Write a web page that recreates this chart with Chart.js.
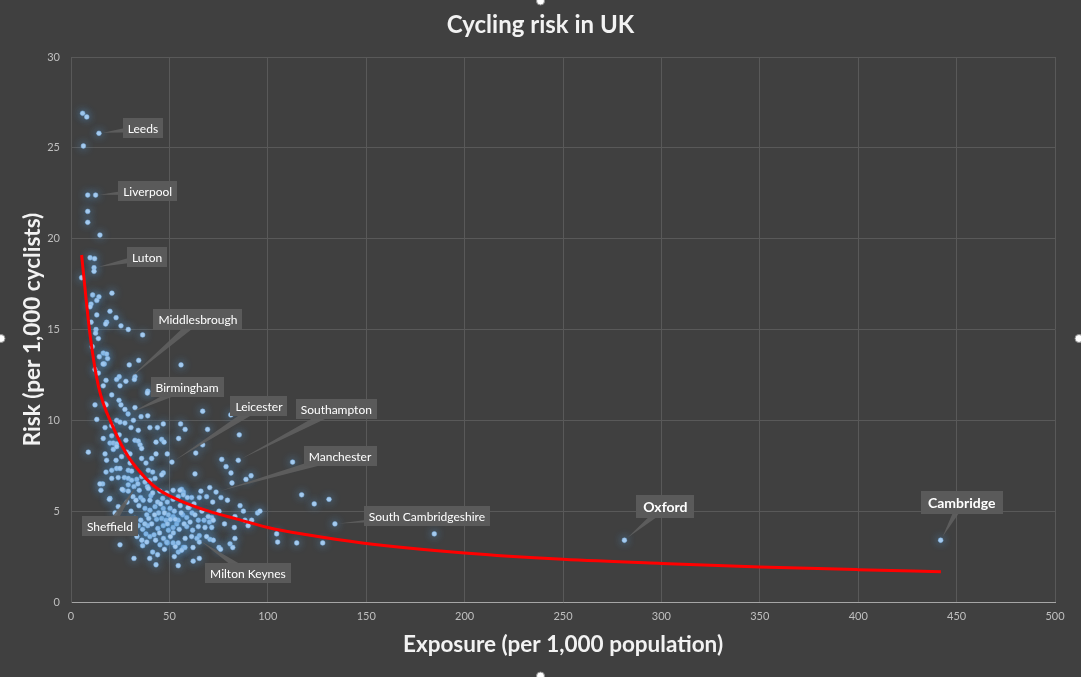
<!DOCTYPE html>
<html>
<head>
<meta charset="utf-8">
<title>Cycling risk in UK</title>
<script src="https://cdn.jsdelivr.net/npm/chart.js@4.4.1/dist/chart.umd.min.js"></script>
<style>
  html, body { margin: 0; padding: 0; background: #404040; }
  #wrap { width: 1081px; height: 677px; position: relative; }
</style>
</head>
<body>
<div id="wrap"><canvas id="riskChart"></canvas></div>
<script>
// exposure (per 1,000 population) / risk (per 1,000 cyclists), one pair per local authority
const exposure = [
  5.9, 8.0, 14.2, 6.3, 8.5, 12.5, 8.5, 8.5, 14.7, 9.7,
  12.0, 11.7, 11.7, 5.4, 11.0, 14.2, 20.8, 13.1, 10.2, 9.7,
  19.8, 13.1, 18.1, 17.6, 22.9, 10.2, 25.4, 29.1, 12.7, 12.5,
  36.4, 13.9, 10.8, 16.4, 18.1, 14.4, 18.6, 16.9, 16.3, 34.4,
  29.6, 12.2, 13.9, 24.5, 23.2, 24.9, 32.5, 32.2, 17.8, 16.4,
  55.9, 39.0, 27.9, 29.0, 20.7, 12.2, 17.3, 17.8, 24.4, 25.4,
  27.4, 32.5, 38.8, 35.6, 39.0, 13.1, 23.2, 24.9, 27.4, 31.7,
  17.3, 20.7, 30.5, 34.2, 40.1, 43.9, 20.7, 24.5, 16.4, 27.9,
  32.5, 34.2, 19.8, 21.5, 23.2, 35.1, 35.9, 21.5, 23.2, 8.8,
  28.3, 30.0, 17.3, 25.7, 35.9, 41.0, 18.1, 22.9, 30.0, 38.1,
  17.8, 20.7, 23.2, 24.9, 29.1, 30.8, 39.3, 41.5, 35.9, 33.4,
  20.7, 24.0, 27.1, 29.1, 30.8, 40.1, 42.7, 16.1, 29.1, 32.0,
  34.0, 37.6, 38.8, 26.6, 29.1, 34.7, 35.4, 15.2, 19.8, 40.6,
  66.9, 81.2, 46.9, 55.7, 58.0, 69.4, 85.5, 46.1, 47.3, 54.7,
  66.9, 48.9, 63.4, 76.6, 85.0, 51.3, 78.8, 43.2, 43.2, 112.6,
  46.9, 63.0, 81.3, 91.5, 88.9, 81.8, 117.2, 131.1, 123.6, 76.2,
  68.9, 65.2, 61.3, 56.2, 57.1, 85.9, 87.6, 94.8, 96.0, 75.2,
  71.5, 83.3, 88.4, 91.8, 134.1, 104.5, 105.0, 114.7, 127.9, 64.7,
  67.6, 70.3, 71.5, 65.2, 70.6, 72.3, 75.2, 80.8, 82.2, 83.3,
  57.1, 62.1, 65.2, 54.5, 43.2, 184.6, 281.2, 441.9, 73.7, 64.0,
  14.7, 19.5, 24.0, 22.4, 24.9, 32.0, 36.4, 41.5, 45.2, 48.9,
  54.5, 57.9, 65.2, 38.1, 40.1, 42.2, 34.2, 36.4, 39.0, 44.1,
  46.9, 49.5, 51.9, 53.7, 43.5, 46.1, 48.3, 51.9, 54.5, 56.8,
  58.8, 58.8, 61.8, 64.7, 68.1, 37.6, 40.1, 42.7, 46.9, 50.3,
  36.7, 40.1, 46.6, 48.9, 51.9, 54.5, 57.1, 59.1, 39.3, 41.5,
  45.2, 48.6, 51.9, 55.4, 46.1, 30.5, 32.5, 34.5, 38.5, 44.5,
  68.9, 69.7, 48.6, 51.9, 54.5, 61.3, 56.2, 49.5, 76.0, 72.3,
  52.5, 55.5, 33.5, 47.0, 44.0, 52.5, 60.0, 61.5, 62.5, 28.5,
  31.5, 27.0, 66.0, 70.5, 72.0, 79.5, 83.0, 90.0, 78.0, 26.0,
  33.0, 35.5, 37.5, 39.5, 41.0, 42.5, 44.0, 45.5, 47.5, 49.0,
  50.5, 52.0, 53.0, 55.0, 56.0, 57.5, 59.5, 60.5, 63.0, 66.5,
  36.0, 38.5, 43.0, 45.0, 50.5, 53.0, 58.0, 62.0, 40.0, 47.5
];
const risk = [
  26.9, 26.7, 25.8, 25.1, 22.4, 22.4, 21.5, 20.9, 20.2, 18.95,
  18.9, 18.4, 18.2, 17.85, 16.9, 16.8, 17.0, 16.6, 16.4, 16.25,
  16.0, 15.8, 15.4, 15.3, 15.65, 15.4, 15.2, 15.0, 15.0, 14.8,
  14.7, 14.5, 14.05, 13.7, 13.65, 13.5, 13.4, 13.1, 13.1, 13.3,
  13.05, 12.8, 12.6, 12.4, 12.25, 11.9, 12.4, 12.25, 12.2, 11.9,
  13.05, 11.6, 12.15, 10.35, 11.4, 10.85, 10.9, 10.85, 11.1, 10.85,
  10.6, 10.7, 11.5, 10.2, 10.25, 10.05, 10.0, 9.9, 9.85, 10.0,
  9.6, 9.7, 9.6, 9.45, 9.6, 9.6, 9.15, 9.2, 9.0, 8.9,
  8.9, 8.85, 8.75, 8.75, 8.7, 8.65, 8.45, 8.4, 8.55, 8.25,
  8.25, 8.15, 8.15, 8.0, 7.9, 7.9, 7.8, 7.8, 7.65, 7.65,
  7.15, 7.25, 7.35, 7.35, 7.25, 7.2, 7.25, 7.15, 6.9, 6.75,
  6.8, 6.85, 6.85, 6.8, 6.7, 6.7, 6.8, 6.5, 6.45, 6.35,
  6.5, 6.6, 6.35, 6.15, 6.1, 6.15, 5.75, 6.15, 5.7, 5.85,
  10.5, 10.3, 9.8, 9.8, 9.5, 9.5, 9.2, 8.95, 8.8, 9.0,
  8.65, 8.15, 8.2, 7.85, 7.8, 7.7, 7.45, 8.8, 8.15, 7.7,
  7.1, 7.05, 7.1, 6.95, 6.75, 6.55, 5.9, 5.65, 5.4, 5.75,
  5.8, 5.75, 5.75, 6.2, 6.05, 5.3, 5.0, 4.9, 5.0, 5.0,
  4.65, 4.7, 4.5, 4.5, 4.3, 3.75, 3.3, 3.25, 3.25, 4.5,
  4.5, 4.4, 4.1, 3.65, 3.45, 3.4, 3.0, 3.2, 3.0, 3.5,
  3.0, 2.25, 2.4, 2.0, 2.05, 3.75, 3.4, 3.4, 6.05, 3.5,
  6.5, 5.65, 5.25, 4.9, 3.15, 2.4, 3.1, 2.75, 3.15, 3.25,
  2.75, 3.0, 3.3, 3.75, 3.6, 3.7, 4.2, 4.0, 4.2, 4.05,
  4.2, 3.95, 4.1, 4.3, 4.55, 4.6, 4.5, 4.7, 4.5, 4.8,
  4.65, 4.15, 3.95, 4.15, 4.1, 5.15, 5.05, 5.25, 5.15, 5.15,
  5.6, 5.6, 5.7, 5.5, 5.65, 5.8, 5.9, 5.75, 6.25, 6.0,
  6.1, 6.0, 6.15, 6.15, 7.0, 5.0, 4.6, 5.3, 4.8, 4.9,
  3.6, 4.7, 3.3, 3.25, 3.25, 3.6, 2.85, 4.8, 2.9, 4.5,
  5.0, 5.3, 3.6, 3.5, 2.6, 2.5, 5.2, 4.9, 5.4, 5.5,
  5.8, 4.5, 6.1, 6.3, 5.5, 5.6, 4.1, 4.2, 4.3, 6.2,
  5.6, 4.5, 4.3, 4.6, 4.3, 4.8, 5.5, 5.4, 4.9, 4.3,
  4.55, 3.8, 4.55, 4.0, 4.9, 4.3, 5.2, 4.4, 4.8, 5.0,
  3.4, 3.3, 3.4, 3.8, 3.6, 3.05, 3.5, 3.0, 2.4, 2.9
];

// power trend line
const trendX = [5.4, 6.7, 9.7, 13.9, 21.5, 29.1, 38.5, 45, 55, 70, 85, 100, 120, 148, 200, 250, 300, 350, 400, 442];
const trendY = [19.1, 17.7, 14.7, 11.9, 9.6, 8.0, 6.75, 6.15, 5.6, 5.0, 4.55, 4.1, 3.7, 3.25, 2.7, 2.35, 2.12, 1.93, 1.78, 1.67];

// labelled places
const calloutNames = ['Leeds', 'Liverpool', 'Luton', 'Middlesbrough', 'Birmingham', 'Leicester', 'Southampton',
  'Manchester', 'Sheffield', 'Milton Keynes', 'South Cambridgeshire', 'Oxford', 'Cambridge'];
const calloutX = [14.2, 12.5, 11.7, 27.9, 29.0, 51.3, 85.0, 73.7, 34.0, 64.0, 134.1, 281.2, 441.9];
const calloutY = [25.8, 22.4, 18.4, 12.15, 10.35, 7.7, 7.8, 6.05, 6.5, 3.5, 4.3, 3.4, 3.4];
// box offset from the point in px, and whether it is a big bold one
const calloutStyle = [[44, -5], [52, -4], [53, -11], [72, -62], [59, -27], [87, -56], [98, -51],
  [124, -36], [-28, 42], [51, 35], [92, -8], [41, -34, true], [21, -38, true]];

const FONT = 'Lato, "Open Sans", sans-serif';

const bgPlugin = {
  id: 'bg',
  beforeDraw(chart) {
    const ctx = chart.ctx;
    ctx.save();
    ctx.fillStyle = '#404040';
    ctx.fillRect(0, 0, chart.width, chart.height);
    ctx.restore();
  },
  afterDraw(chart) {
    // selection handles of the chart frame
    const ctx = chart.ctx;
    const w = chart.width, h = chart.height;
    ctx.save();
    [[w / 2, 1], [1, h / 2], [w - 2, h / 2], [w / 2, h - 1]].forEach(([hx, hy]) => {
      ctx.beginPath();
      ctx.arc(hx, hy, 4, 0, Math.PI * 2);
      ctx.fillStyle = '#ffffff';
      ctx.fill();
      ctx.strokeStyle = '#8c8c8c';
      ctx.lineWidth = 1;
      ctx.stroke();
    });
    ctx.restore();
  }
};

// soft blue glow round the markers
const glowPlugin = {
  id: 'glow',
  beforeDatasetDraw(chart, args) {
    if (chart.data.datasets[args.index].label !== 'Local authorities') return;
    chart.ctx.save();
    chart.ctx.shadowColor = 'rgba(91, 155, 213, 1)';
    chart.ctx.shadowBlur = 9;
  },
  afterDatasetDraw(chart, args) {
    if (chart.data.datasets[args.index].label !== 'Local authorities') return;
    chart.ctx.restore();
  }
};

const calloutPlugin = {
  id: 'callouts',
  afterDatasetsDraw(chart) {
    const {ctx, scales: {x, y}} = chart;
    ctx.save();
    calloutNames.forEach((name, i) => {
      const px = x.getPixelForValue(calloutX[i]);
      const py = y.getPixelForValue(calloutY[i]);
      const [dx, dy, big] = calloutStyle[i];
      const cx = px + dx, cy = py + dy;
      ctx.font = (big ? 'bold 14px ' : '12px ') + FONT;
      const w = ctx.measureText(name).width + (big ? 14 : 10);
      const h = big ? 23 : 20;

      // wedge pointing at the marker
      const ang = Math.atan2(py - cy, px - cx);
      const nx = -Math.sin(ang) * 4, ny = Math.cos(ang) * 4;
      const tx = px - Math.cos(ang) * 4, ty = py - Math.sin(ang) * 4;
      ctx.fillStyle = 'rgba(95, 95, 95, 0.9)';
      ctx.beginPath();
      ctx.moveTo(cx + nx, cy + ny);
      ctx.lineTo(tx, ty);
      ctx.lineTo(cx - nx, cy - ny);
      ctx.closePath();
      ctx.fill();

      ctx.fillStyle = '#5a5a5a';
      ctx.fillRect(Math.round(cx - w / 2), Math.round(cy - h / 2), Math.round(w), h);

      ctx.fillStyle = '#ffffff';
      ctx.textAlign = 'center';
      ctx.textBaseline = 'middle';
      ctx.fillText(name, cx, cy + 1);
    });
    ctx.restore();
  }
};

const ctx = document.getElementById('riskChart').getContext('2d');

const riskChart = new Chart(ctx, {
  type: 'scatter',
  data: {
    datasets: [{
      type: 'line',
      label: 'Power trend',
      data: trendX.map((v, i) => ({x: v, y: trendY[i]})),
      borderColor: '#ff0000',
      borderWidth: 3,
      pointRadius: 0,
      cubicInterpolationMode: 'monotone',
      fill: false,
      order: 0
    }, {
      label: 'Local authorities',
      data: exposure.map((v, i) => ({x: v, y: risk[i]})),
      backgroundColor: '#a9cdf0',
      borderColor: '#7fb2e5',
      borderWidth: 0.5,
      pointRadius: 2.4,
      order: 1
    }]
  },
  options: {
    responsive: true,
    maintainAspectRatio: false,
    animation: false,
    layout: {
      padding: 0
    },
    scales: {
      x: {
        type: 'linear',
        min: 0,
        max: 500,
        afterFit: s => { s.height = 75; },
        ticks: {
          stepSize: 50,
          color: '#bfbfbf',
          padding: 8,
          font: {family: FONT, size: 11}
        },
        grid: {color: '#595959', drawTicks: false},
        border: {color: '#a6a6a6'},
        title: {
          display: true,
          text: 'Exposure (per 1,000 population)',
          color: '#f2f2f2',
          font: {family: FONT, size: 22.5, weight: 'bold'},
          padding: {top: 0, bottom: 19}
        }
      },
      y: {
        min: 0,
        max: 30,
        afterFit: s => { s.width = 71; },
        ticks: {
          stepSize: 5,
          color: '#bfbfbf',
          padding: 11,
          font: {family: FONT, size: 11}
        },
        grid: {color: '#595959', drawTicks: false},
        border: {color: '#595959'},
        title: {
          display: true,
          text: 'Risk (per 1,000 cyclists)',
          color: '#f2f2f2',
          font: {family: FONT, size: 22.5, weight: 'bold'},
          padding: {top: 19, bottom: 0}
        }
      },
      // empty right margin so the title stays centred on the whole chart
      yRight: {
        position: 'right',
        min: 0,
        max: 30,
        afterFit: s => { s.width = 26; },
        ticks: {display: false},
        grid: {display: false, drawTicks: false},
        border: {display: false}
      }
    },
    plugins: {
      legend: {display: false},
      tooltip: {enabled: false},
      title: {
        display: true,
        text: 'Cycling risk in UK',
        color: '#f2f2f2',
        font: {family: FONT, size: 24, weight: 'bold'},
        padding: {top: 11, bottom: 17.2}
      }
    }
  },
  plugins: [bgPlugin, glowPlugin, calloutPlugin]
});
</script>
</body>
</html>
